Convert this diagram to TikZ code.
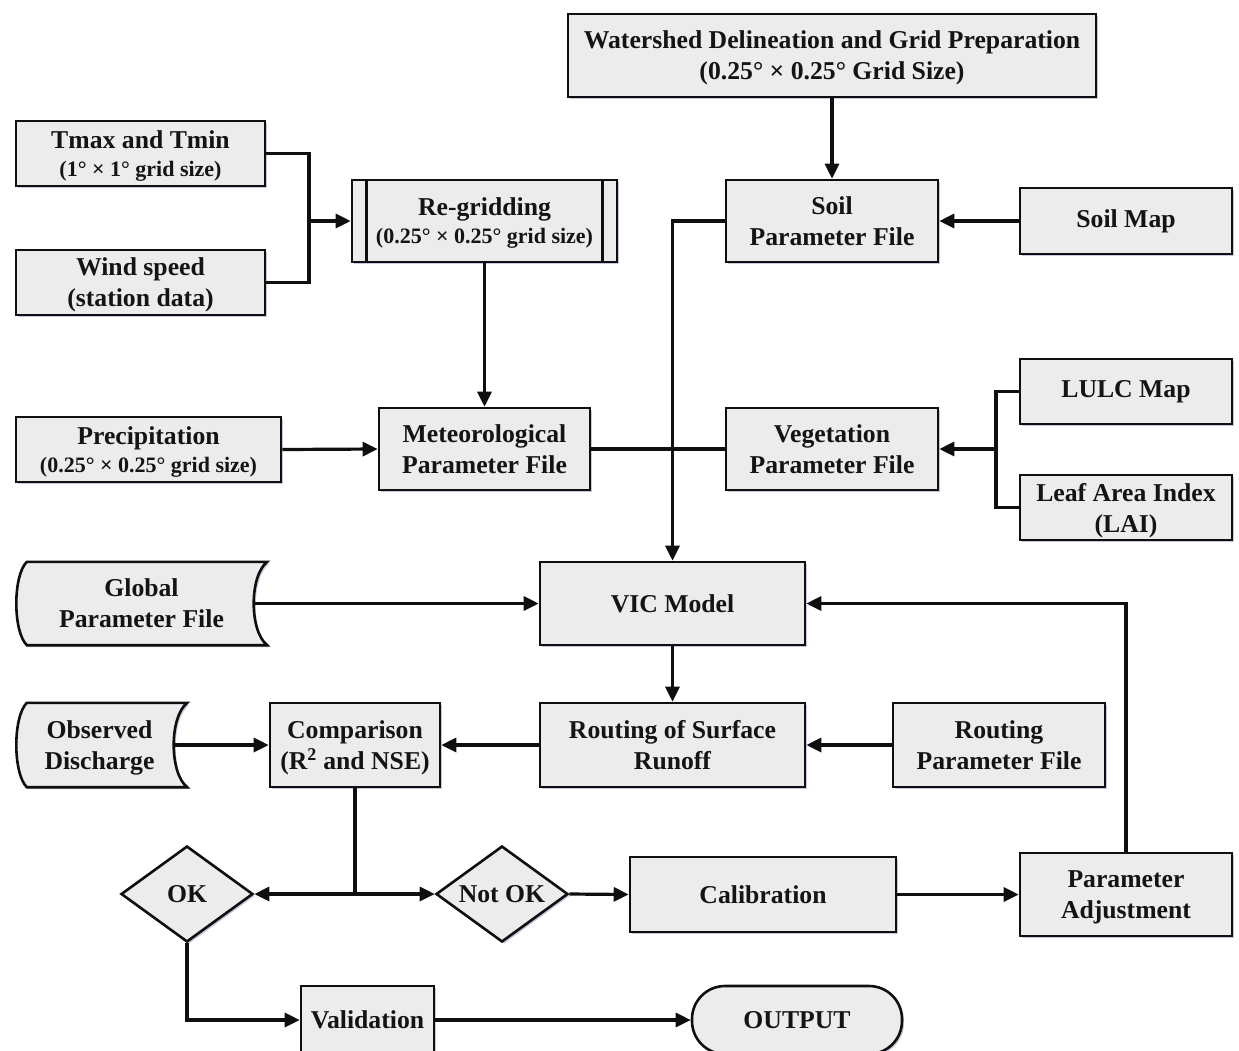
\documentclass[tikz,border=0pt]{standalone}
\usepackage{fontspec}
\setmainfont{Liberation Serif}
\usetikzlibrary{arrows.meta,shapes.geometric,shadows,calc}
\definecolor{boxgray}{RGB}{236,236,236}
\definecolor{textc}{RGB}{20,20,20}
\definecolor{linec}{RGB}{15,15,15}
\newcommand\bigf{\fontsize{25.7}{31}\selectfont\bfseries}
\newcommand\smallf{\fontsize{22}{26}\selectfont}
\tikzset{
  shd/.style={drop shadow={shadow xshift=2pt,shadow yshift=-2pt,fill=blue!25!gray,opacity=0.35}},
  box/.style={rectangle, draw=linec, line width=2.6pt, fill=boxgray, align=center, font=\bigf, text=textc, inner sep=0pt, shd},
  plain/.style={rectangle, align=center, font=\bigf, text=textc, inner sep=0pt},
  dia/.style={diamond, draw=linec, line width=2.6pt, fill=boxgray, align=center, font=\bigf, text=textc, inner sep=0pt, shd},
  shapeline/.style={draw=linec, line width=2.6pt, fill=boxgray, shd},
  conn/.style={line width=3.2pt, draw=linec},
  arr/.style={conn, -{Triangle[length=15pt,width=14pt]}},
  nodepth/.style={text depth=0pt},
}
\newcommand\storedshape[1]{%
  \draw[shapeline] ($(#1.north west)+(11,0)$) -- (#1.north east)
    .. controls ($(#1.north east)+(-18,14)$) and ($(#1.south east)+(-18,-14)$) .. (#1.south east)
    -- ($(#1.south west)+(11,0)$)
    .. controls ($(#1.south west)+(-3,-14)$) and ($(#1.north west)+(-3,14)$) .. cycle;}
\begin{document}
\begin{tikzpicture}[x=1pt,y=-1pt]
\useasboundingbox (0,0) rectangle (1239,1050);
\fill[white] (0,0) rectangle (1239,1050);

% nodes
\node[box, nodepth, minimum width=528, minimum height=83] (ws) at (832,55.5)
  {Watershed Delineation and Grid Preparation\\(0.25\textdegree\ \texttimes\ 0.25\textdegree\ Grid Size)};
\node[box, nodepth, minimum width=249, minimum height=65] (tmax) at (140.5,153.5)
  {Tmax and Tmin\\[-3pt]{\smallf(1\textdegree\ \texttimes\ 1\textdegree\ grid size)}};
\node[box, nodepth, minimum width=249, minimum height=65] (wind) at (140.5,282.5)
  {Wind speed\\(station data)};
\node[box, nodepth, minimum width=265, minimum height=82] (regrid) at (484.5,221)
  {Re-gridding\\[-3pt]{\smallf(0.25\textdegree\ \texttimes\ 0.25\textdegree\ grid size)}};
\draw[line width=2.6pt, draw=linec] ([xshift=16pt]regrid.north west) -- ([xshift=16pt]regrid.south west);
\draw[line width=2.6pt, draw=linec] ([xshift=-16pt]regrid.north east) -- ([xshift=-16pt]regrid.south east);
\node[box, minimum width=212, minimum height=82] (soil) at (832,221)
  {Soil\\Parameter File};
\node[box, minimum width=212, minimum height=66] (soilmap) at (1126,221)
  {Soil Map};
\node[box, minimum width=212, minimum height=65] (lulc) at (1126,391.5)
  {LULC Map};
\node[box, nodepth, minimum width=212, minimum height=65] (lai) at (1126,507.5)
  {Leaf Area Index\\(LAI)};
\node[box, nodepth, minimum width=265, minimum height=65] (prec) at (148.5,449.5)
  {Precipitation\\[-3pt]{\smallf(0.25\textdegree\ \texttimes\ 0.25\textdegree\ grid size)}};
\node[box, minimum width=211, minimum height=82] (met) at (484.5,449)
  {Meteorological\\Parameter File};
\node[box, minimum width=212, minimum height=82] (veg) at (832,449)
  {Vegetation\\Parameter File};

\node[plain, minimum width=251, minimum height=83] (glob) at (141.5,603.5) {};
\storedshape{glob}
\node[plain] at (glob.center) {Global\\Parameter File};

\node[box, minimum width=265, minimum height=83] (vic) at (672.5,603.5)
  {VIC Model};

\node[plain, minimum width=171, minimum height=84] (obs) at (101.5,745) {};
\storedshape{obs}
\node[plain, nodepth] at ([xshift=-2pt]obs.center) {Observed\\Discharge};

\node[box, nodepth, minimum width=170, minimum height=84] (comp) at (355,745)
  {Comparison\\(R\textsuperscript{2} and NSE)};
\node[box, minimum width=265, minimum height=84] (rout) at (672.5,745)
  {Routing of Surface\\Runoff};
\node[box, minimum width=212, minimum height=84] (rpar) at (999,745)
  {Routing\\Parameter File};

\node[dia, minimum width=132, minimum height=96, aspect=1.375] (ok) at (187,894) {OK};
\node[dia, minimum width=132, minimum height=96, aspect=1.375] (nok) at (502,894) {Not OK};
\node[box, minimum width=266, minimum height=75] (cal) at (763,894.5) {Calibration};
\node[box, nodepth, minimum width=212, minimum height=83] (padj) at (1126,894.5)
  {Parameter\\Adjustment};
\node[box, minimum width=133, minimum height=68] (valid) at (367.5,1020) {Validation};
\node[box, rounded corners=33pt, minimum width=210, minimum height=68] (out) at (797,1020) {OUTPUT};

% connectors
\coordinate (j1) at (309,221);
\draw[conn] (tmax.east) -| (j1) |- (wind.east);
\draw[arr] (j1) -- (regrid.west);
\draw[arr] (ws.south) -- (soil.north);
\draw[arr] (soilmap.west) -- (soil.east);
\draw[arr] (regrid.south) -- (met.north);
\draw[arr] (prec.east) -- (met.west);
\draw[conn] (met.east) -- (veg.west);
\draw[arr] (soil.west) -| (vic.north);
\coordinate (j2) at (996,449);
\draw[conn] (lulc.west) -| (j2) |- (lai.west);
\draw[arr] (j2) -- (veg.east);
\draw[arr] ($(glob.east)+(-13,0)$) -- (vic.west);
\draw[arr] (vic.south) -- (rout.north);
\draw[arr] (rpar.west) -- (rout.east);
\draw[arr] (rout.west) -- (comp.west -| comp.east);
\draw[arr] ($(obs.east)+(-13,0)$) -- (comp.west);
\coordinate (j3) at (comp.south |- ok.east);
\draw[conn] (comp.south) -- (j3);
\draw[arr] (j3) -- (ok.east);
\draw[arr] (j3) -- (nok.west);
\draw[arr] (nok.east) -- (cal.west);
\draw[arr] (cal.east) -- (padj.west);
\draw[arr] (padj.north) |- (vic.east);
\draw[arr] (ok.south) |- (valid.west);
\draw[arr] (valid.east) -- (out.west);
\end{tikzpicture}
\end{document}
